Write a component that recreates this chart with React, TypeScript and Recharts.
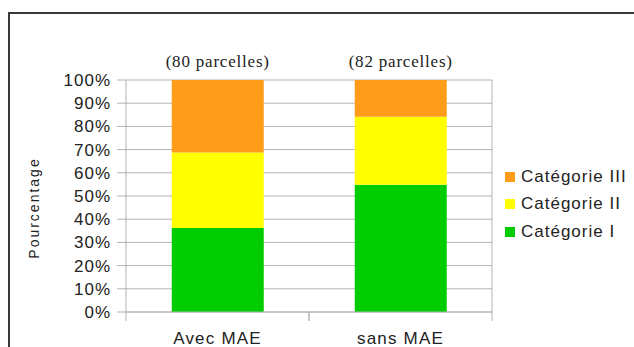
import { BarChart, Bar, XAxis, YAxis, CartesianGrid, Legend, LabelList } from "recharts";

const groups = ["Avec MAE", "sans MAE"];
const parcelles = ["(80 parcelles)", "(82 parcelles)"];
const categorieI = [36.25, 54.88];
const categorieII = [32.5, 29.27];
const categorieIII = [31.25, 15.85];
const yTicks = [0, 10, 20, 30, 40, 50, 60, 70, 80, 90, 100];

const seriesNames = ["Catégorie I", "Catégorie II", "Catégorie III"];
const COLORS = ["#00cc00", "#ffff00", "#ff9c1a"];

const data = groups.map((g, i) => ({
  groupe: g,
  note: parcelles[i],
  c1: categorieI[i],
  c2: categorieII[i],
  c3: categorieIII[i],
}));

const SANS = "'Liberation Sans', Arial, sans-serif";
const SERIF = "'Liberation Serif', 'Times New Roman', serif";
const GRID = "#b3b3b3";
const TEXT = "#222";

// category label centred in its band, with tick marks on the band edges
function GroupTick(props: any) {
  const { x, y, payload, width, visibleTicksCount } = props;
  const half = width / (visibleTicksCount || 2) / 2;
  return (
    <g>
      <line x1={x - half} y1={y} x2={x - half} y2={y + 9} stroke={GRID} />
      <line x1={x + half} y1={y} x2={x + half} y2={y + 9} stroke={GRID} />
      <text
        x={x}
        y={y + 32}
        textAnchor="middle"
        fontFamily={SANS}
        fontSize={17}
        letterSpacing={1.2}
        fill={TEXT}
      >
        {payload.value}
      </text>
    </g>
  );
}

function LegendBox() {
  const items = [2, 1, 0];
  return (
    <div style={{ fontFamily: SANS, fontSize: 17, color: TEXT, letterSpacing: 1 }}>
      {items.map((i) => (
        <div key={i} style={{ display: "flex", alignItems: "center", height: 27.5 }}>
          <span
            style={{
              display: "inline-block",
              width: 10,
              height: 10,
              background: COLORS[i],
              marginRight: 6,
            }}
          />
          {seriesNames[i]}
        </div>
      ))}
    </div>
  );
}

export default function App() {
  return (
    <div
      style={{
        position: "fixed",
        left: 0,
        top: 0,
        width: 634,
        height: 347,
        overflow: "hidden",
        background: "#fff",
      }}
    >
      <div
        style={{
          position: "absolute",
          left: 8,
          top: 12,
          width: 700,
          height: 400,
          borderTop: "2px solid #3a3a3a",
          borderLeft: "2px solid #3a3a3a",
        }}
      />
      <div style={{ position: "absolute", left: 0, top: 0 }}>
        <BarChart
          width={634}
          height={347}
          data={data}
          margin={{ top: 80, right: 142, bottom: 0, left: 0 }}
          barCategoryGap="25%"
        >
          <CartesianGrid
            stroke={GRID}
            horizontal={true}
            verticalCoordinatesGenerator={({ offset }: any) => [offset.left + offset.width]}
          />
          <XAxis
            dataKey="groupe"
            height={35}
            axisLine={{ stroke: GRID }}
            tickLine={false}
            tickSize={0}
            tickMargin={0}
            interval={0}
            tick={<GroupTick />}
          />
          <YAxis
            width={126}
            domain={[0, 100]}
            ticks={yTicks}
            interval={0}
            tickFormatter={(v: number) => `${v}%`}
            axisLine={{ stroke: GRID }}
            tickLine={{ stroke: GRID }}
            tickSize={9}
            tickMargin={6}
            tick={{ fontFamily: SANS, fontSize: 17, fill: TEXT, letterSpacing: 1 }}
            label={{
              content: () => (
                <text
                  transform="translate(34,208) rotate(-90)"
                  textAnchor="middle"
                  dominantBaseline="central"
                  fontFamily={SANS}
                  fontSize={14}
                  letterSpacing={2}
                  fill={TEXT}
                >
                  Pourcentage
                </text>
              ),
            }}
          />
          <Legend
            layout="vertical"
            align="center"
            verticalAlign="middle"
            content={<LegendBox />}
            wrapperStyle={{ left: 505, top: 163, width: 129 }}
          />
          <Bar dataKey="c1" stackId="a" fill={COLORS[0]} name={seriesNames[0]} isAnimationActive={false} />
          <Bar dataKey="c2" stackId="a" fill={COLORS[1]} name={seriesNames[1]} isAnimationActive={false} />
          <Bar dataKey="c3" stackId="a" fill={COLORS[2]} name={seriesNames[2]} isAnimationActive={false}>
            <LabelList
              dataKey="note"
              position="top"
              offset={13}
              fontFamily={SERIF}
              fontSize={17}
              letterSpacing={0.8}
              fill={TEXT}
            />
          </Bar>
        </BarChart>
      </div>
    </div>
  );
}
